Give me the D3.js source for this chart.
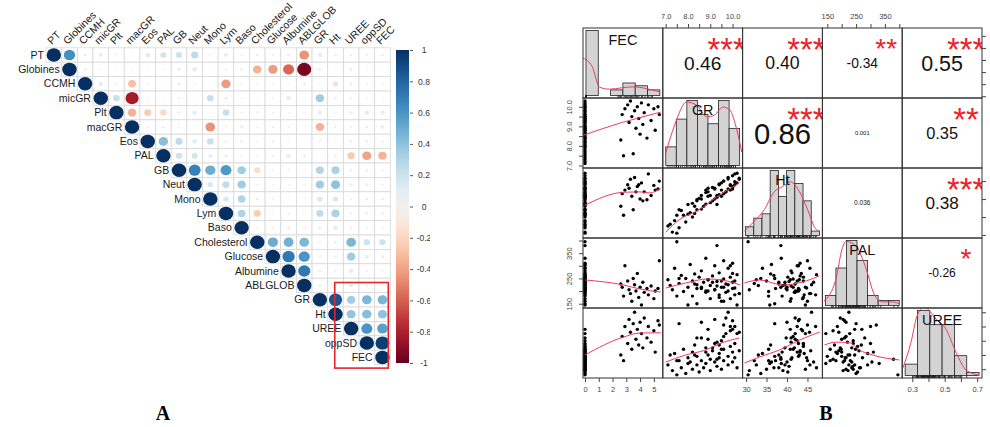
<!DOCTYPE html>
<html>
<head>
<meta charset="utf-8">
<script src="https://cdn.jsdelivr.net/npm/d3@7"></script>
<style>
  body { margin: 0; background: #fff; }
  svg { display: block; font-family: "Liberation Sans", Arial, sans-serif; }
</style>
</head>
<body>
<svg id="fig" width="990" height="427"></svg>
<script>
// ---------- panel A data (corrplot, upper triangle) ----------
var varNames = ["PT","Globines","CCMH","micGR","Plt","macGR","Eos","PAL","GB","Neut","Mono","Lym","Baso",
                "Cholesterol","Glucose","Albumine","ABLGLOB","GR","Ht","UREE","oppSD","FEC"];
// row i holds r with columns i+1 .. 21
var corrRows = [
  [0.62,0.05,0.08,0.02,0.01,0.12,0.18,0.20,0.25,0.02,0.08,0.03,0.04,0.03,0.05,-0.45,0.10,0.04,0.05,0.03,0.04],
  [0.05,0.02,0.01,0.02,0.01,0.02,0.06,0.10,0.01,-0.03,-0.04,-0.35,-0.42,-0.58,-0.95,0.05,0.02,0.06,0.02,0.01],
  [0.10,0.03,-0.30,0.02,0.01,0.05,0.03,0.01,-0.42,-0.03,-0.02,0.02,0.01,0.05,0.02,-0.15,0.05,0.03,0.02],
  [0.22,-0.82,0.02,0.01,0.03,0.02,0.22,-0.06,0.02,0.01,0.02,0.10,0.02,0.35,-0.06,0.03,0.02,0.02],
  [-0.35,-0.25,-0.20,0.05,0.10,0.02,0.22,0.03,0.04,0.03,0.02,-0.02,0.10,0.02,0.05,0.10,0.10],
  [0.03,0.04,0.02,0.01,-0.45,0.02,0.06,0.02,0.04,0.03,-0.02,-0.35,0.03,0.04,0.05,-0.08],
  [0.42,0.25,0.10,0.22,0.04,-0.05,0.02,0.03,0.02,0.01,0.04,0.02,-0.05,-0.04,-0.03],
  [0.20,0.18,0.08,-0.06,0.03,0.02,0.04,0.10,0.05,0.001,0.036,-0.26,-0.40,-0.34],
  [0.68,0.50,0.58,0.35,-0.18,0.02,0.03,0.02,0.30,0.32,0.04,0.05,0.03],
  [0.15,0.25,0.35,0.03,0.02,0.02,0.03,0.35,0.40,0.05,0.06,0.03],
  [0.15,0.30,-0.05,0.02,0.01,0.02,0.15,0.15,0.03,0.05,0.04],
  [0.30,-0.25,0.02,0.03,0.02,0.25,0.32,0.03,0.05,0.04],
  [0.03,0.04,0.05,0.04,0.06,0.10,0.04,0.03,0.03],
  [0.50,0.48,0.45,0.03,0.05,0.45,0.20,0.20],
  [0.72,0.60,0.04,0.05,0.35,0.08,0.06],
  [0.72,0.04,0.03,0.10,0.03,0.02],
  [0.05,0.03,0.08,0.03,0.02],
  [0.86,0.35,0.45,0.46],
  [0.38,0.42,0.40],
  [0.60,0.55],
  [0.95]
];
var legendTicks = [1,0.8,0.6,0.4,0.2,0,-0.2,-0.4,-0.6,-0.8,-1];

// ---------- panel B data (chart.Correlation) ----------
var pairVars = ["FEC","GR","Ht","PAL","UREE"];
var fec = [0,0,0,0,0,0,0,0,0,0,
           0,0,0,0,0,0,0,0,0,0,
           0,0,0,0,0,0,0,0,0,0,
           0,0,0,0,0,0,0,0,0,0,
           0,0,0,0,0,0,0,
           2.6,2.7,2.8,2.9,3.1,3.2,3.3,3.4,3.5,3.6,
           3.7,3.8,3.9,4.0,4.1,4.2,4.3,4.5,4.6,4.8,
           5.0,5.1,5.3,5.4];
var gr = [7.1,7.3,7.4,7.6,7.7,7.8,7.9,8.0,8.1,8.2,
          8.2,8.3,8.4,8.4,8.5,8.6,8.6,8.7,8.8,8.8,
          8.9,9.0,9.0,9.1,9.2,9.2,9.3,9.4,9.4,9.5,
          9.6,9.6,9.7,9.8,9.8,9.9,10.0,10.0,10.1,10.2,
          7.5,8.9,9.3,7.2,8.0,9.5,10.3,
          8.3,9.6,7.5,9.9,10.1,9.2,10.3,9.5,7.6,9.8,
          8.9,10.0,9.4,8.6,10.2,9.1,9.7,8.4,10.1,9.3,
          9.9,8.8,10.0,9.6];
var ht = [32.5,30.8,34.0,32.0,36.8,35.5,33.6,38.5,36.2,35.0,
          38.8,36.0,39.5,37.0,40.2,37.2,41.0,38.0,41.8,38.6,
          43.0,41.0,39.0,43.2,40.0,42.8,40.5,44.2,41.2,44.5,
          41.5,45.0,42.0,45.6,42.8,44.0,46.5,43.2,44.8,47.2,
          30.5,40.8,38.5,33.0,35.8,42.5,45.8,
          38.0,41.5,35.5,42.5,44.0,43.0,45.5,40.8,37.0,46.0,
          42.0,43.5,44.0,40.0,44.5,39.5,42.0,39.8,47.0,41.0,
          43.8,42.5,42.8,45.0];
var pal = [245,205,290,230,262,198,250,215,305,240,
           180,268,225,150,255,210,280,235,195,330,
           245,170,222,260,205,300,238,185,272,215,
           248,160,228,290,200,255,235,310,212,265,
           395,245,380,222,145,240,190,
           228,215,180,300,240,205,190,160,250,225,
           200,270,175,215,145,235,195,210,185,220,
           170,200,210,320];
var uree = [0.33,0.29,0.41,0.36,0.31,0.44,0.27,0.38,0.35,0.30,
            0.42,0.47,0.33,0.39,0.28,0.36,0.52,0.31,0.45,0.34,
            0.40,0.37,0.29,0.43,0.35,0.48,0.32,0.41,0.38,0.30,
            0.44,0.36,0.55,0.33,0.39,0.46,0.35,0.42,0.38,0.31,
            0.26,0.58,0.37,0.40,0.34,0.50,0.43,
            0.40,0.53,0.36,0.60,0.48,0.65,0.56,0.44,0.62,0.70,
            0.51,0.58,0.47,0.63,0.55,0.45,0.66,0.52,0.60,0.49,
            0.57,0.42,0.64,0.61];

// axis ranges of each variable
var pairDomains = [[-0.145,5.65],[6.87,10.45],[29.15,48.65],[133,410],[0.238,0.73]];
var pairTicks = [[0,1,2,3,4,5],[7,7.5,8,8.5,9,9.5,10],[30,35,40,45],[150,200,250,300,350,400],[0.3,0.4,0.5,0.6,0.7]];
var pairTickLabels = [["0","1","2","3","4","5"],["7.0","","8.0","","9.0","","10.0"],["30","35","40","45"],
                      ["150","","250","","350",""],["0.3","","0.5","","0.7"]];

// upper panels: r, printed text, significance stars
var corrB = [[0.46,0.40,-0.34,0.55],[0.86,0.001,0.35],[0.036,0.38],[-0.26]];
var corrText = [["0.46","0.40","-0.34","0.55"],["0.86","0.001","0.35"],["0.036","0.38"],["-0.26"]];
var corrStars = [["***","***","**","***"],["***","","**"],["","***"],["*"]];

// diagonal histograms
var fecBreaks = [0,1,2,3,4,5,6],                 fecCounts = [47,0,4,9,7,4];
var grBreaks = [7,7.5,8,8.5,9,9.5,10,10.5],      grCounts = [4,10,14,11,9,14,8];
var htBreaks = [30,32,34,36,38,40,42,44,46,48],  htCounts = [2,4,5,15,9,15,12,8,1];
var palBreaks = [120,160,200,240,280,320,360,400], palCounts = [4,15,26,18,4,2,2];
var ureeBreaks = [0.2,0.3,0.4,0.5,0.6,0.7,0.8],  ureeCounts = [4,23,18,18,7,1];
// density curves, y in count units
var fecDens = [[-0.25,27],[0.5,21],[1.1,6],[1.9,4.5],[2.9,5.5],[3.8,6.2],[4.9,5],[6,2.5]];
var grDens = [[7.0,2.7],[7.42,8.7],[7.99,13.7],[8.46,13.0],[8.94,10.5],[9.32,10.9],[9.70,12.6],[10.03,12.0],[10.37,7.6],[10.6,2.9]];
var htDens = [[29.7,1.0],[32.15,3.3],[34.6,6.0],[37.0,10.1],[39.0,11.3],[40.95,12.4],[43.15,10.1],[45.1,6.0],[47.1,1.5],[48.05,1.0]];
var palDens = [[115,1.8],[160,10.5],[183,22.5],[198,25.7],[237,23.7],[275,14.5],[305,4.5],[336,1.4],[375,1.4],[402,0.6]];
var ureeDens = [[0.182,2.7],[0.247,11.7],[0.296,21],[0.353,24.3],[0.451,20],[0.532,16.4],[0.614,8.1],[0.695,1.9],[0.8,0.1]];

// smoothers in lower panels
var smGRFEC = [[-0.1,8.55],[2.7,9.2],[4,9.45],[5.5,9.73]];
var smHtFEC = [[0,38.3],[2.8,41.9],[4,42.0],[4.7,41.7],[5.5,43.1]];
var smHtGR = [[7.0,30.8],[7.6,34.2],[8.5,37.0],[9.3,40.6],[10.3,44.5]];
var smPALFEC = [[0,244],[2.8,224],[4,208],[5.5,196]];
var smPALGR = [[7.0,212],[7.9,232],[8.9,248],[9.5,244],[10.35,224]];
var smPALHt = [[29.6,232],[33.3,244],[38.9,224],[43.8,236],[47.9,260]];
var smUREEFEC = [[0,0.40],[2.8,0.526],[4,0.554],[5.5,0.556]];
var smUREEGR = [[7.0,0.35],[7.9,0.40],[8.8,0.435],[9.5,0.484],[10.3,0.519]];
var smUREEHt = [[29.6,0.343],[33.3,0.386],[38.2,0.435],[43.1,0.505],[48,0.561]];
var smUREEPAL = [[140,0.47],[181,0.49],[226,0.487],[261,0.435],[306,0.40],[400,0.365]];

var svg = d3.select("#fig");
var defs = svg.append("defs");
var redLine = "#ee3a62";

// =========================== panel A ===========================
var gA = svg.append("g");
var xA = d3.scaleBand().domain(varNames).range([46, 390.3]);
var yA = d3.scaleBand().domain(varNames).range([47.8, 364.6]);
var colA = d3.scaleSequential(d3.interpolateRdBu).domain([-1, 1]);
var bwA = xA.bandwidth(), bhA = yA.bandwidth();

var cells = [];
varNames.forEach(function(name, i) {
  cells.push({row: name, col: name, r: 1});
  (corrRows[i] || []).forEach(function(v, k) {
    cells.push({row: name, col: varNames[i + 1 + k], r: v});
  });
});

gA.selectAll("rect.cell")
  .data(cells)
  .enter().append("rect")
    .attr("class", "cell")
    .attr("x", d => xA(d.col))
    .attr("y", d => yA(d.row))
    .attr("width", bwA)
    .attr("height", bhA)
    .attr("fill", "#fff")
    .attr("stroke", "#d8d8d8")
    .attr("stroke-width", 0.8);

gA.selectAll("ellipse")
  .data(cells)
  .enter().append("ellipse")
    .attr("cx", d => xA(d.col) + bwA / 2)
    .attr("cy", d => yA(d.row) + bhA / 2)
    .attr("rx", d => Math.sqrt(Math.abs(d.r)) * bwA * 0.46)
    .attr("ry", d => Math.sqrt(Math.abs(d.r)) * bhA * 0.47)
    .attr("fill", d => colA(d.r));

// row labels
gA.selectAll("text.rowlab")
  .data(varNames)
  .enter().append("text")
    .attr("class", "rowlab")
    .attr("x", d => xA(d) - 2)
    .attr("y", d => yA(d) + bhA / 2)
    .attr("dy", "0.35em")
    .attr("text-anchor", "end")
    .attr("font-size", 10.5)
    .attr("fill", "#1a1a1a")
    .text(d => d);

// column labels
gA.selectAll("text.collab")
  .data(varNames)
  .enter().append("text")
    .attr("class", "collab")
    .attr("transform", d => "translate(" + (xA(d) + bwA / 2 - 2) + ",45) rotate(-45)")
    .attr("font-size", 10.5)
    .attr("fill", "#1a1a1a")
    .text(d => d);

// colour legend
var yLeg = d3.scaleLinear().domain([-1, 1]).range([363, 50]);
var grad = defs.append("linearGradient")
  .attr("id", "rdbu").attr("x1", 0).attr("x2", 0).attr("y1", 1).attr("y2", 0);
grad.selectAll("stop")
  .data(d3.range(0, 1.0001, 0.05))
  .enter().append("stop")
    .attr("offset", d => d)
    .attr("stop-color", d => colA(d * 2 - 1));
gA.append("rect")
  .attr("x", 396).attr("y", yLeg(1))
  .attr("width", 13).attr("height", yLeg(-1) - yLeg(1))
  .attr("fill", "url(#rdbu)");

// clip in the axis group's own (translated) coordinates: cuts labels at x = 430
defs.append("clipPath").attr("id", "clipLeg")
  .append("rect").attr("x", -30).attr("y", 30).attr("width", 50).attr("height", 350);
var legAxis = gA.append("g")
  .attr("transform", "translate(410,0)")
  .attr("clip-path", "url(#clipLeg)")
  .call(d3.axisRight(yLeg).tickValues(legendTicks).tickSize(3).tickFormat(d => String(d)));
legAxis.select(".domain").remove();
legAxis.selectAll("line").attr("stroke", "#555");
legAxis.selectAll("text")
  .attr("x", 14).attr("text-anchor", "middle")
  .attr("font-size", 8.5).attr("fill", "#333")
  .attr("font-family", "Liberation Sans, Arial, sans-serif");

// highlight box
gA.append("rect")
  .attr("x", xA("Ht") + bwA * 0.45)
  .attr("y", yA("ABLGLOB") + bhA * 0.3)
  .attr("width", xA("FEC") + bwA - 2 - (xA("Ht") + bwA * 0.45))
  .attr("height", yA("FEC") + bhA + 3.5 - (yA("ABLGLOB") + bhA * 0.3))
  .attr("fill", "none")
  .attr("stroke", "#e3262b")
  .attr("stroke-width", 1.6);

// =========================== panel B ===========================
var gB = svg.append("g");
var bx0 = 583, by0 = 28, bw = 79.8, bh = 70;
var obs = [fec, gr, ht, pal, uree];
var histBreaks = [fecBreaks, grBreaks, htBreaks, palBreaks, ureeBreaks];
var histCounts = [fecCounts, grCounts, htCounts, palCounts, ureeCounts];
var histDens = [fecDens, grDens, htDens, palDens, ureeDens];
var smooths = {"1-0": smGRFEC, "2-0": smHtFEC, "2-1": smHtGR, "3-0": smPALFEC, "3-1": smPALGR,
               "3-2": smPALHt, "4-0": smUREEFEC, "4-1": smUREEGR, "4-2": smUREEHt, "4-3": smUREEPAL};

function xs(c) { return d3.scaleLinear().domain(pairDomains[c]).range([bx0 + c * bw, bx0 + (c + 1) * bw]); }
function ys(r) { return d3.scaleLinear().domain(pairDomains[r]).range([by0 + (r + 1) * bh, by0 + r * bh]); }

function measure(txt) {
  var t = svg.append("text").attr("font-size", 100).text(txt);
  var w = t.node().getComputedTextLength() / 100;
  t.remove();
  return w;
}

var nObs = d3.min(obs, a => a.length);

for (var r = 0; r < 5; r++) {
  for (var c = 0; c < 5; c++) {
    var px = bx0 + c * bw, py = by0 + r * bh;
    var cid = "clipB" + r + c;
    defs.append("clipPath").attr("id", cid)
      .append("rect").attr("x", px).attr("y", py).attr("width", bw).attr("height", bh);
    var g = gB.append("g").attr("clip-path", "url(#" + cid + ")");

    if (r === c) {
      // histogram on its own scales
      var br = histBreaks[r], cn = histCounts[r];
      var span = br[br.length - 1] - br[0];
      var hx = d3.scaleLinear().domain([br[0] - 0.04 * span, br[br.length - 1] + 0.04 * span]).range([px, px + bw]);
      var mx = d3.max(cn);
      var hy = d3.scaleLinear().domain([-0.04 * mx, mx * 1.04]).range([py + bh, py]);
      g.selectAll("rect.bar")
        .data(cn)
        .enter().append("rect")
          .attr("x", (d, i) => hx(br[i]))
          .attr("width", (d, i) => hx(br[i + 1]) - hx(br[i]))
          .attr("y", d => hy(d))
          .attr("height", d => hy(0) - hy(d))
          .attr("fill", "#d3d3d3")
          .attr("stroke", "#222")
          .attr("stroke-width", 0.8);
      g.append("path")
        .datum(histDens[r])
        .attr("d", d3.line().x(d => hx(d[0])).y(d => hy(d[1])).curve(d3.curveMonotoneX))
        .attr("fill", "none")
        .attr("stroke", redLine)
        .attr("stroke-width", 1);
      g.selectAll("line.rug")
        .data(obs[r].slice(0, nObs))
        .enter().append("line")
          .attr("x1", d => hx(d)).attr("x2", d => hx(d))
          .attr("y1", py + bh).attr("y2", py + bh - 2.5)
          .attr("stroke", "#111")
          .attr("stroke-width", 0.8);
      g.append("text")
        .attr("x", px + bw / 2)
        .attr("y", py + bh * (1 - 0.833) + 0.36 * 14.4)
        .attr("text-anchor", "middle")
        .attr("font-size", 14.4)
        .attr("fill", "#111")
        .text(pairVars[r]);
    } else if (r < c) {
      // correlation text + stars
      var v = corrB[r][c - r - 1], txt = corrText[r][c - r - 1], st = corrStars[r][c - r - 1];
      var fsStar = 0.8 * bw / measure(txt);
      var fsNum = fsStar * (Math.abs(v) + 0.3) / 1.3;
      g.append("text")
        .attr("x", px + bw / 2)
        .attr("y", py + bh / 2 + 0.36 * fsNum)
        .attr("text-anchor", "middle")
        .attr("font-size", fsNum)
        .attr("fill", "#111")
        .text(txt);
      if (st) {
        g.append("text")
          .attr("x", px + 0.8 * bw)
          .attr("y", py + 0.2 * bh + 0.58 * fsStar)
          .attr("text-anchor", "middle")
          .attr("font-size", fsStar)
          .attr("fill", "#f0202a")
          .text(st);
      }
    } else {
      // scatter + smoother
      var sx = xs(c), sy = ys(r);
      var pts = d3.range(nObs).map(i => [obs[c][i], obs[r][i]]);
      g.selectAll("circle")
        .data(pts)
        .enter().append("circle")
          .attr("cx", d => sx(d[0]))
          .attr("cy", d => sy(d[1]))
          .attr("r", 1.7)
          .attr("fill", "#000");
      g.append("path")
        .datum(smooths[r + "-" + c])
        .attr("d", d3.line().x(d => sx(d[0])).y(d => sy(d[1])).curve(d3.curveMonotoneX))
        .attr("fill", "none")
        .attr("stroke", redLine)
        .attr("stroke-width", 1);
    }

    gB.append("rect")
      .attr("x", px).attr("y", py).attr("width", bw).attr("height", bh)
      .attr("fill", "none").attr("stroke", "#333").attr("stroke-width", 1);
  }
}

// outer axes, alternating like pairs()
function styleAxis(a) {
  a.select(".domain").remove();
  a.selectAll("line").attr("stroke", "#444");
  a.selectAll("text").attr("font-size", 7.5).attr("fill", "#444")
    .attr("font-family", "Liberation Sans, Arial, sans-serif");
}
function fmt(k) { return (d, i) => pairTickLabels[k][i]; }

[1, 3].forEach(function(k) {
  var a = gB.append("g").attr("transform", "translate(0," + by0 + ")")
    .call(d3.axisTop(xs(k)).tickValues(pairTicks[k]).tickSize(4).tickPadding(5).tickFormat(fmt(k)));
  styleAxis(a);
  var l = gB.append("g").attr("transform", "translate(" + bx0 + ",0)")
    .call(d3.axisLeft(ys(k)).tickValues(pairTicks[k]).tickSize(4).tickFormat(fmt(k)));
  styleAxis(l);
  l.selectAll("text")
    .attr("transform", "rotate(-90)")
    .attr("x", 0).attr("y", -11).attr("dy", 0)
    .attr("text-anchor", "middle");
});
[0, 2, 4].forEach(function(k) {
  var a = gB.append("g").attr("transform", "translate(0," + (by0 + 5 * bh) + ")")
    .call(d3.axisBottom(xs(k)).tickValues(pairTicks[k]).tickSize(4).tickPadding(5).tickFormat(fmt(k)));
  styleAxis(a);
  var rgt = gB.append("g").attr("transform", "translate(" + (bx0 + 5 * bw) + ",0)")
    .call(d3.axisRight(ys(k)).tickValues(pairTicks[k]).tickSize(4).tickFormat(""));
  styleAxis(rgt);
});

// panel letters
svg.append("text").attr("x", 163).attr("y", 420).attr("text-anchor", "middle")
  .attr("font-family", "Liberation Serif, Times New Roman, serif").attr("font-weight", "bold")
  .attr("font-size", 20).text("A");
svg.append("text").attr("x", 826).attr("y", 420).attr("text-anchor", "middle")
  .attr("font-family", "Liberation Serif, Times New Roman, serif").attr("font-weight", "bold")
  .attr("font-size", 20).text("B");
</script>
</body>
</html>
